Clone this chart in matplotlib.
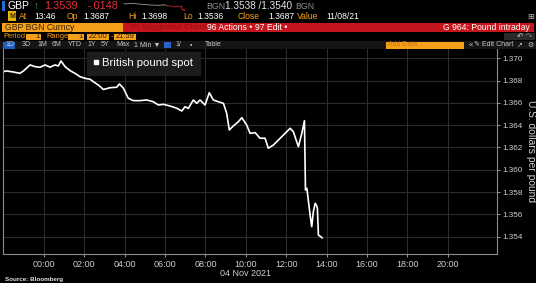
import matplotlib
matplotlib.use("Agg")
import matplotlib.pyplot as plt
from matplotlib import font_manager
from matplotlib.patches import Rectangle
from matplotlib.lines import Line2D

W, H = 536, 283

# GBP spot, 1-min bars; hours relative to 04 Nov 2021 00:00
hours = [-2.0, -1.84, -1.51, -1.18, -1.01, -0.68, -0.44, -0.19, 0.06, 0.31,
         0.55, 0.72, 0.85, 1.05, 1.30, 1.54, 1.79, 2.04, 2.29, 2.45,
         2.70, 2.95, 3.28, 3.61, 3.74, 3.94, 4.18, 4.43, 4.76, 5.09,
         5.42, 5.67, 5.92, 6.25, 6.58, 6.83, 6.99, 7.15, 7.40, 7.57,
         7.73, 7.98, 8.19, 8.39, 8.64, 8.89, 9.05, 9.18, 9.38, 9.63,
         9.80, 10.04, 10.21, 10.46, 10.70, 10.95, 11.11, 11.36, 11.61, 11.86,
         12.19, 12.35, 12.60, 12.77, 12.90, 12.95, 13.02, 13.09, 13.18, 13.26,
         13.34, 13.43, 13.49, 13.54, 13.59, 13.71, 13.77]
gbp = [1.3688, 1.36886, 1.36877, 1.36865, 1.36886, 1.3694, 1.36925, 1.36919, 1.3694, 1.3692,
       1.3694, 1.36931, 1.36976, 1.36925, 1.36889, 1.36865, 1.36835, 1.3682, 1.36812, 1.3679,
       1.3676, 1.3672, 1.36736, 1.3674, 1.3677, 1.36731, 1.36641, 1.3662, 1.3662, 1.36626,
       1.3661, 1.36581, 1.36587, 1.36572, 1.36552, 1.36527, 1.36566, 1.3655, 1.36626, 1.36596,
       1.36626, 1.36581, 1.36691, 1.36626, 1.3661, 1.36596, 1.36507, 1.36357, 1.36393, 1.36431,
       1.36467, 1.36402, 1.36327, 1.36333, 1.36283, 1.36283, 1.36193, 1.36222, 1.36267, 1.36312,
       1.36372, 1.36342, 1.36207, 1.36327, 1.36441, 1.35819, 1.35834, 1.35729, 1.35595, 1.3549,
       1.35624, 1.357, 1.35684, 1.35655, 1.35415, 1.354, 1.3539]

x_ticks = [0, 2, 4, 6, 8, 10, 12, 14, 16, 18, 20]
x_labels = ["00:00", "02:00", "04:00", "06:00", "08:00", "10:00\n04 Nov 2021",
            "12:00", "14:00", "16:00", "18:00", "20:00"]
y_ticks = [1.354, 1.356, 1.358, 1.360, 1.362, 1.364, 1.366, 1.368, 1.370]

names = {f.name for f in font_manager.fontManager.ttflist}
NARROW = "Liberation Sans Narrow" if "Liberation Sans Narrow" in names else "Liberation Sans"
plt.rcParams["font.family"] = ["Liberation Sans", "DejaVu Sans"]

ORANGE = "#f5a01a"
RED = "#c4161c"
GREY = "#cfcfcf"

fig = plt.figure(figsize=(W / 100, H / 100), dpi=100, facecolor="black")


def fx(x):
    return x / W


def fy(y):
    return 1 - y / H


def box(x0, y0, x1, y1, color):
    fig.add_artist(Rectangle((fx(x0), fy(y1)), (x1 - x0) / W, (y1 - y0) / H,
                             transform=fig.transFigure, color=color, lw=0))


def txt(x, y, s, color="white", size=6.5, ha="left", **kw):
    fig.text(fx(x), fy(y), s, color=color, fontsize=size, ha=ha, va="center", **kw)


# ---- header rows
box(2, 1, 5, 11, "#1e6fd6")
txt(8, 6.2, "GBP", size=7.5)
txt(34, 6.2, "↑", color="#3cb44b", size=7)
txt(44, 6.2, "1.3539", color="#e8303a", size=7.8)
txt(88, 6.2, "-.0148", color="#e8303a", size=7.8)
txt(206, 6.2, "BGN", color="#8c8c8c", size=6.3)
txt(225, 6.2, "1.3538 /1.3540", color="#e6e6e6", size=7.2)
txt(295, 6.2, "BGN", color="#8c8c8c", size=6.3)

spark = fig.add_axes([fx(121), fy(11), 67 / W, 8 / H])
spark.set_axis_off()
split = hours.index(9.05)
spark.plot(hours[:split + 1], gbp[:split + 1], color="#9a9a9a", lw=0.6)
spark.plot(hours[split:], gbp[split:], color="#b8202a", lw=0.6)

box(8, 11.5, 16, 21, "#e8b400")
txt(12, 16.4, "M", color="#3a2a00", size=5, ha="center", weight="bold")
row2 = [(19, "At", ORANGE), (34, "13:46", "white"), (67, "Op", ORANGE), (83, "1.3687", "white"),
        (128, "Hi", ORANGE), (141, "1.3698", "white"), (183, "Lo", ORANGE), (197, "1.3536", "white"),
        (238, "Close", ORANGE), (268, "1.3687", "white"), (297, "Value", ORANGE), (326, "11/08/21", "white")]
for x, s, c in row2:
    txt(x, 16.4, s, color=c, size=6.2)
txt(527, 16.4, "⊞", color="#bbbbbb", size=6, family="DejaVu Sans")

box(2, 23, 534, 32, RED)
box(2, 23, 123, 32, ORANGE)
txt(5, 27.5, "GBP BGN Curncy", color="#3a2200", size=6.2)
txt(130, 27.5, "95 Suggested Charts", color="#9a0c14", size=6)
txt(207, 27.5, "96 Actions •", size=6.2)
txt(255, 27.5, "97 Edit •", size=6.2)
txt(530, 27.5, "G 964: Pound intraday", size=6.2, ha="right")

txt(3, 36.6, "Period", color=ORANGE, size=5.4)
txt(46, 36.6, "Range", color=ORANGE, size=5.4)
for x0, x1, s in [(26, 41, "1"), (68, 84, "1"), (87, 109, "22:00"), (114, 136, "21:59")]:
    box(x0, 33.5, x1, 39.7, ORANGE)
    txt(x1 - 1.5 if s == "1" else (x0 + x1) / 2, 36.6, s, color="#2a1a00", size=5.4,
        ha="right" if s == "1" else "center")
txt(110.5, 36.6, "-", color=ORANGE, size=5.4)
box(504, 33.5, 535, 40, "#2a2a2a")
txt(520, 36.8, "↶", color="#cccccc", size=5.5, family="DejaVu Sans", ha="center")
txt(529, 36.8, "↷", color="#777777", size=5.5, family="DejaVu Sans", ha="center")

box(0, 41, W, 48.5, "#151515")
box(3, 41.5, 15, 48.5, "#1f5fbf")
for x, s in [(5, "1D"), (22, "3D"), (37, "1M"), (52, "6M"), (68, "YTD"), (87, "1Y"),
             (101, "5Y"), (116, "Max"), (134, "1 Min ▼"), (175, "1/"), (190, "•"), (205, "Table")]:
    txt(x, 45, s, color="#c8c8c8", size=5)
box(164, 41.8, 171, 48.2, "#2a62c8")
box(386, 41.5, 464, 48.5, ORANGE)
txt(388, 45, "Add Data", color="#c97a10", size=5)
txt(469, 45, "«", color="#c8c8c8", size=5.5)
txt(474, 45, "✎ Edit Chart", color="#c8c8c8", size=5, family=["Liberation Sans", "DejaVu Sans"])
txt(520, 45, "↗", color="#c8c8c8", size=5, family="DejaVu Sans", ha="center")
txt(530, 45, "⚙", color="#c8c8c8", size=5, family="DejaVu Sans", ha="center")

# ---- main chart
ax = fig.add_axes([fx(3), fy(254), 494 / W, (254 - 49) / H], facecolor="black")
ax.plot(hours, gbp, color="white", lw=1.2)
ax.set_xlim(-2.02, 22.43)
ax.set_ylim(1.35245, 1.37083)
ax.set_xticks(x_ticks)
ax.set_xticklabels(x_labels, linespacing=1.1)
ax.set_yticks(y_ticks)
ax.set_yticklabels([f"{v:.3f}" for v in y_ticks])
ax.yaxis.tick_right()
ax.grid(True, color="#2c2c2c", lw=0.8)
ax.set_axisbelow(True)
for s in ["left", "bottom", "right"]:
    ax.spines[s].set_color("#8c8c8c")
    ax.spines[s].set_linewidth(0.8)
ax.spines["top"].set_visible(False)
ax.tick_params(axis="both", color="#9a9a9a", labelcolor=GREY, labelsize=6.5,
               length=2.5, width=0.7, pad=1.5)
ax.tick_params(axis="y", labelsize=5.9, pad=1.2)

ax.legend(handles=[Line2D([], [], marker="s", color="white", ls="none", markersize=3.5)],
          labels=["British pound spot"], loc="upper left",
          bbox_to_anchor=(fx(87), fy(52)), bbox_transform=fig.transFigure,
          borderaxespad=0, handlelength=0.5, handletextpad=0.3, borderpad=0.55,
          fancybox=False, framealpha=1, facecolor="#1c1c1c", edgecolor="#1c1c1c",
          labelcolor="white", fontsize=8.2)

txt(530.5, 151, "U.S. dollars per pound", color=GREY, size=7.4, ha="center", rotation=270)
txt(5, 279, "Source: Bloomberg", color="#e0e0e0", size=4.5, weight="bold")

fig.savefig("out.png", dpi=100, facecolor="black")
